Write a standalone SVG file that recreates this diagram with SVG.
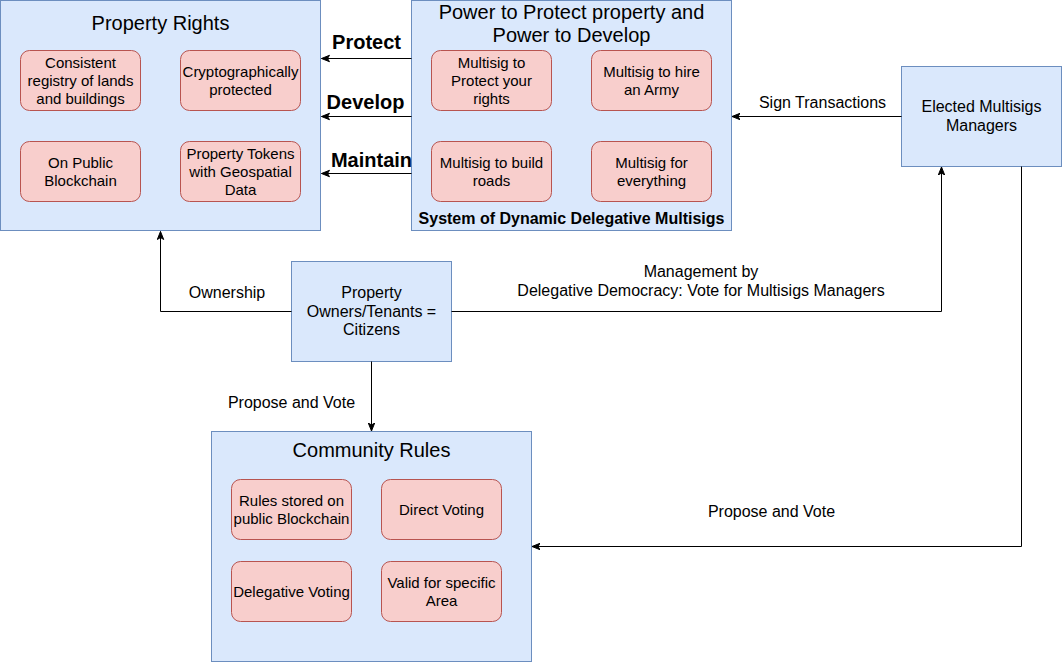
<svg xmlns="http://www.w3.org/2000/svg" width="1062" height="662" viewBox="0 0 1062 662">
<style>
.blue{fill:#dae8fc;stroke:#6c8ebf;stroke-width:1}
.red{fill:#f8cecc;stroke:#b85450;stroke-width:1}
text{font-family:"Liberation Sans",Arial,Helvetica,sans-serif;fill:#000;text-anchor:middle}
.t15{font-size:15px}
.t16{font-size:16px}
.t20{font-size:20px}
.b20{font-size:20px;font-weight:bold}
.b16{font-size:16px;font-weight:bold}
.edge{fill:none;stroke:#000;stroke-width:1}
</style>
<defs>
<marker id="arr" markerWidth="10" markerHeight="10" refX="8" refY="4" orient="auto" markerUnits="userSpaceOnUse">
<path d="M0,0.8 L8,4 L0,7.2 L2,4 z" fill="#000" stroke="#000" stroke-width="1"/>
</marker>
</defs>
<rect width="1062" height="662" fill="#fff"/>

<g id="property-rights">
<rect class="blue" x="0.5" y="0.5" width="320" height="230"/>
<text class="t20" x="160.5" y="30">Property Rights</text>
<rect class="red" x="20.5" y="50.5" width="120" height="60" rx="9"/>
<text class="t15" x="80.5" y="67.5">Consistent</text>
<text class="t15" x="80.5" y="85.5">registry of lands</text>
<text class="t15" x="80.5" y="103.5">and buildings</text>
<rect class="red" x="180.5" y="50.5" width="120" height="60" rx="9"/>
<text class="t15" x="240.5" y="76.5">Cryptographically</text>
<text class="t15" x="240.5" y="94.5">protected</text>
<rect class="red" x="20.5" y="141.5" width="120" height="60" rx="9"/>
<text class="t15" x="80.5" y="167.5">On Public</text>
<text class="t15" x="80.5" y="185.5">Blockchain</text>
<rect class="red" x="180.5" y="141.5" width="120" height="60" rx="9"/>
<text class="t15" x="240.5" y="158.5">Property Tokens</text>
<text class="t15" x="240.5" y="176.5">with Geospatial</text>
<text class="t15" x="240.5" y="194.5">Data</text>
</g>

<g id="power-to-protect">
<rect class="blue" x="411.5" y="0.5" width="320" height="230"/>
<text class="t20" x="571.5" y="19">Power to Protect property and</text>
<text class="t20" x="571.5" y="42">Power to Develop</text>
<rect class="red" x="431.5" y="50.5" width="120" height="60" rx="9"/>
<text class="t15" x="491.5" y="67.5">Multisig to</text>
<text class="t15" x="491.5" y="85.5">Protect your</text>
<text class="t15" x="491.5" y="103.5">rights</text>
<rect class="red" x="591.5" y="50.5" width="120" height="60" rx="9"/>
<text class="t15" x="651.5" y="76.5">Multisig to hire</text>
<text class="t15" x="651.5" y="94.5">an Army</text>
<rect class="red" x="431.5" y="141.5" width="120" height="60" rx="9"/>
<text class="t15" x="491.5" y="167.5">Multisig to build</text>
<text class="t15" x="491.5" y="185.5">roads</text>
<rect class="red" x="591.5" y="141.5" width="120" height="60" rx="9"/>
<text class="t15" x="651.5" y="167.5">Multisig for</text>
<text class="t15" x="651.5" y="185.5">everything</text>
<text class="b16" x="571.5" y="224">System of Dynamic Delegative Multisigs</text>
</g>

<g id="elected-managers">
<rect class="blue" x="901.5" y="66.5" width="160" height="100"/>
<text class="t16" x="981.5" y="111.5">Elected Multisigs</text>
<text class="t16" x="981.5" y="130.5">Managers</text>
</g>

<g id="citizens">
<rect class="blue" x="291.5" y="261.5" width="160" height="100"/>
<text class="t16" x="371.5" y="297.5">Property</text>
<text class="t16" x="371.5" y="316.5">Owners/Tenants =</text>
<text class="t16" x="371.5" y="335">Citizens</text>
</g>

<g id="community-rules">
<rect class="blue" x="211.5" y="431.5" width="320" height="230"/>
<text class="t20" x="371.5" y="457">Community Rules</text>
<rect class="red" x="231.5" y="479.5" width="120" height="60" rx="9"/>
<text class="t15" x="291.5" y="505.5">Rules stored on</text>
<text class="t15" x="291.5" y="523.5">public Blockchain</text>
<rect class="red" x="381.5" y="479.5" width="120" height="60" rx="9"/>
<text class="t15" x="441.5" y="514.5">Direct Voting</text>
<rect class="red" x="231.5" y="561.5" width="120" height="60" rx="9"/>
<text class="t15" x="291.5" y="596.5">Delegative Voting</text>
<rect class="red" x="381.5" y="561.5" width="120" height="60" rx="9"/>
<text class="t15" x="441.5" y="587.5">Valid for specific</text>
<text class="t15" x="441.5" y="605.5">Area</text>
</g>

<g id="connectors">
<path class="edge" d="M411.5,58.5 L321.5,58.5" marker-end="url(#arr)"/>
<path class="edge" d="M411.5,116.5 L321.5,116.5" marker-end="url(#arr)"/>
<path class="edge" d="M411.5,173.5 L321.5,173.5" marker-end="url(#arr)"/>
<path class="edge" d="M901.5,116.5 L732,116.5" marker-end="url(#arr)"/>
<path class="edge" d="M291.5,311.5 L160.5,311.5 L160.5,231.5" marker-end="url(#arr)"/>
<path class="edge" d="M451.5,311.5 L941.5,311.5 L941.5,167" marker-end="url(#arr)"/>
<path class="edge" d="M371.5,361.5 L371.5,431" marker-end="url(#arr)"/>
<path class="edge" d="M1021.5,166.5 L1021.5,546.5 L532,546.5" marker-end="url(#arr)"/>
<text class="b20" x="366.5" y="48.5">Protect</text>
<text class="b20" x="365.5" y="108.5">Develop</text>
<text class="b20" x="371.5" y="167">Maintain</text>
<text class="t16" x="822.5" y="107.5">Sign Transactions</text>
<text class="t16" x="227" y="297.5">Ownership</text>
<text class="t16" x="701" y="276.5">Management by</text>
<text class="t16" x="701" y="296">Delegative Democracy: Vote for Multisigs Managers</text>
<text class="t16" x="291.5" y="407.5">Propose and Vote</text>
<text class="t16" x="771.5" y="517">Propose and Vote</text>
</g>
</svg>
